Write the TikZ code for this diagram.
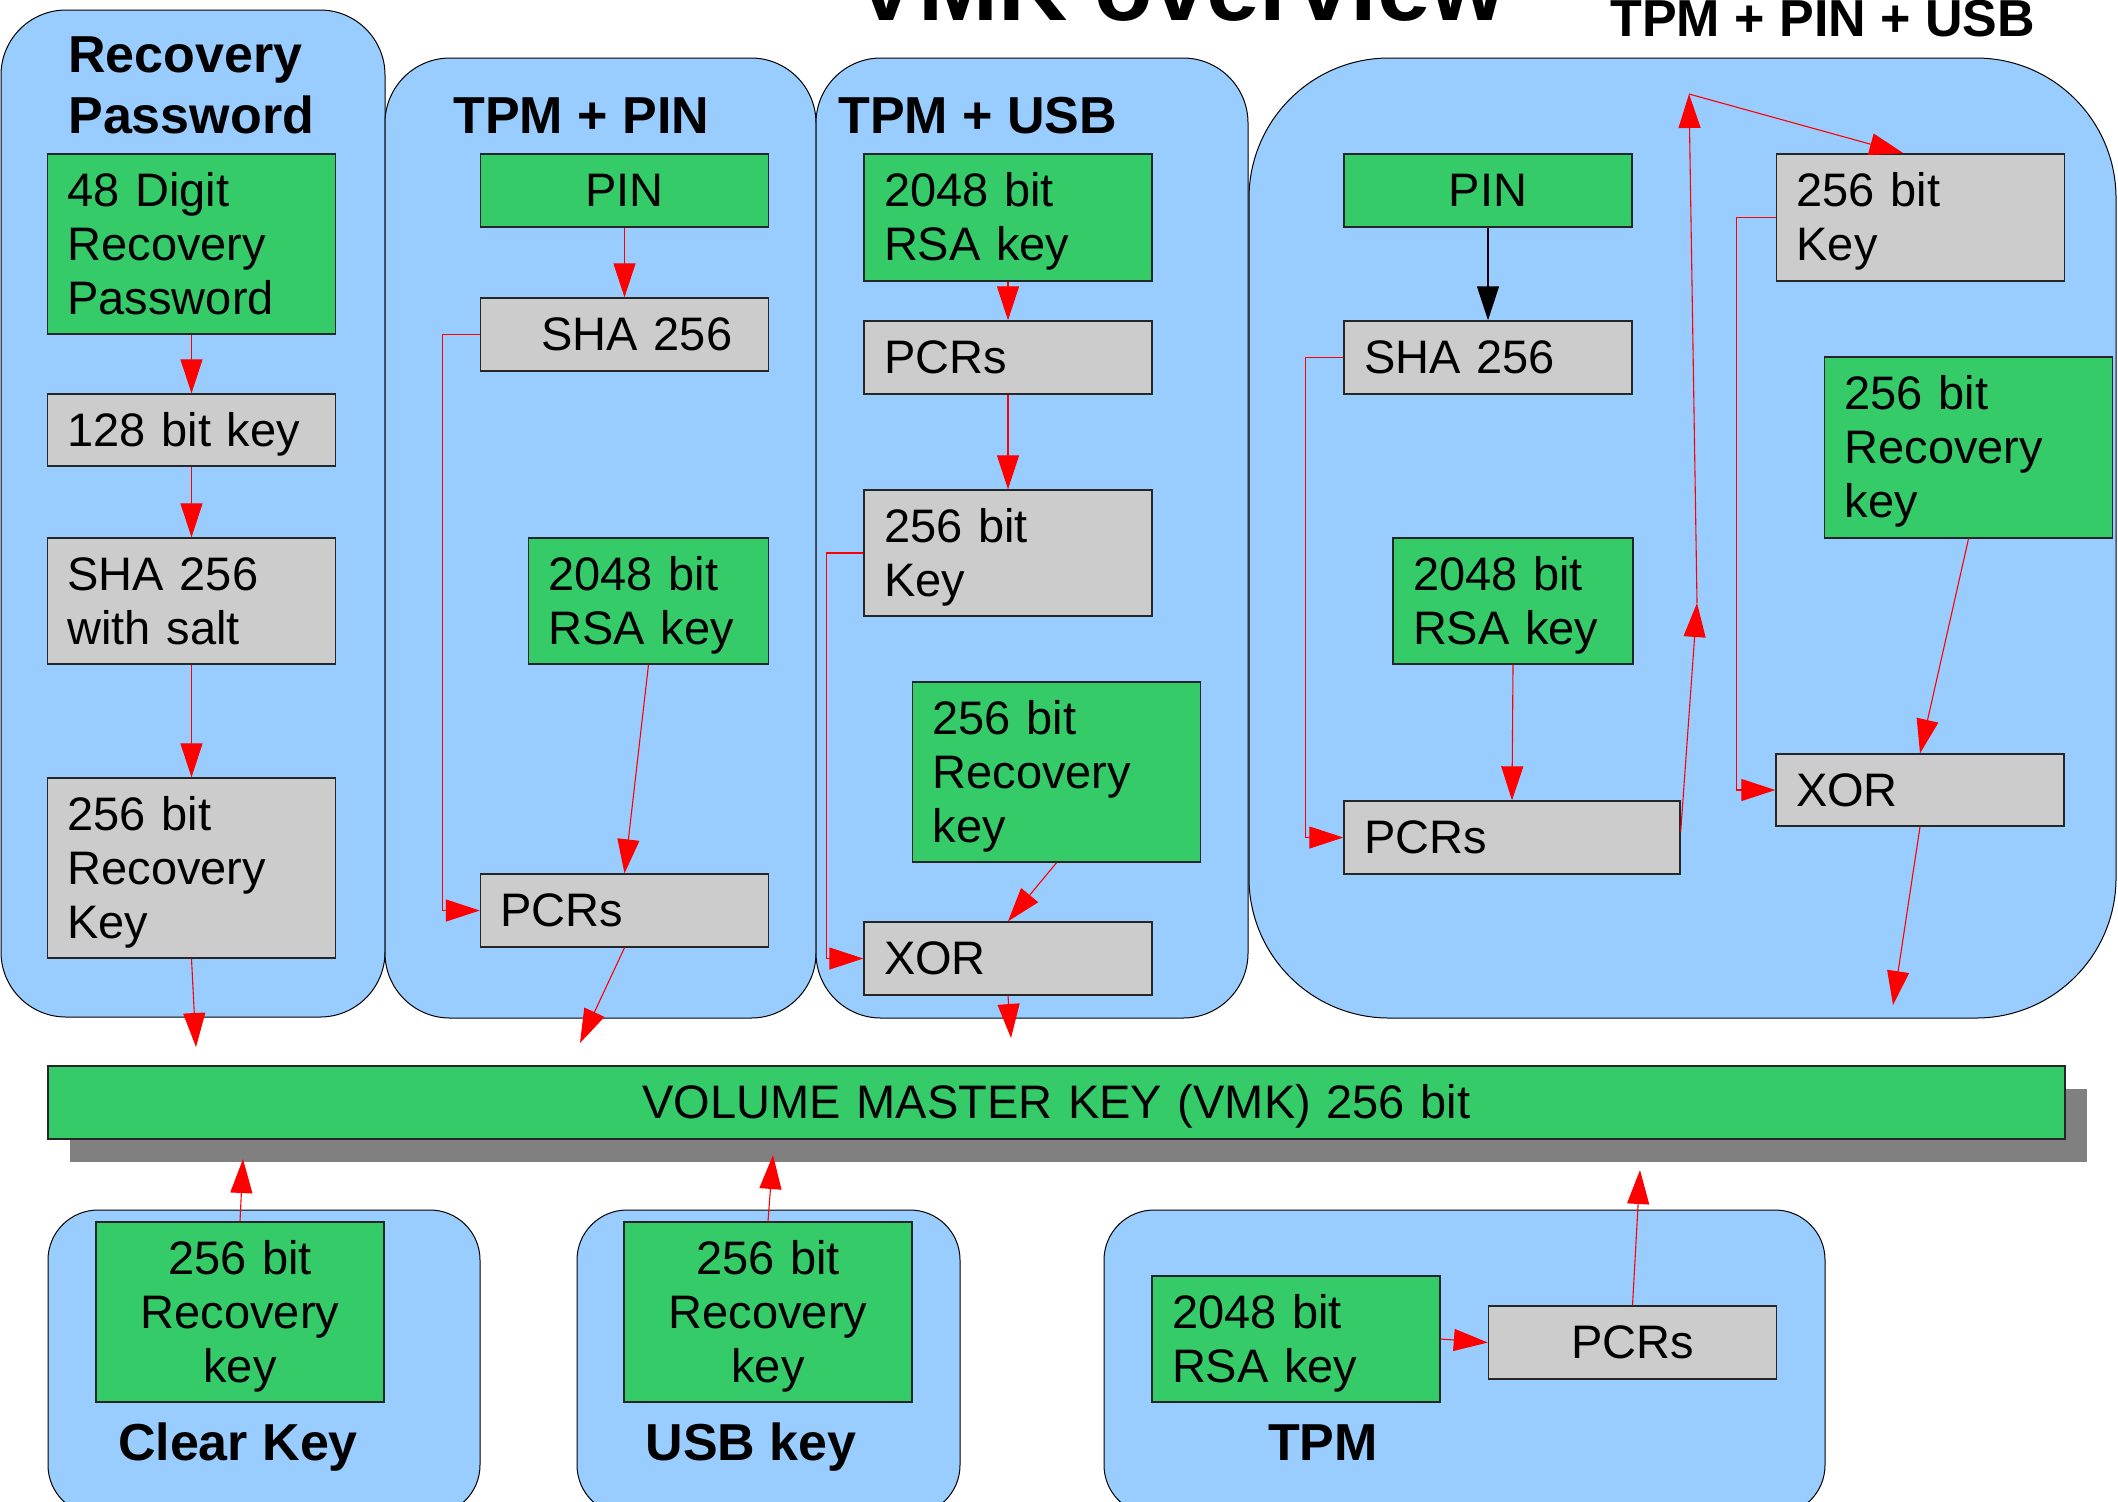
\documentclass[tikz,border=0pt]{standalone}
\usepackage{fontspec}
\setmainfont{Liberation Sans}
\usetikzlibrary{arrows.meta,calc}
\definecolor{cblue}{RGB}{153,204,255}
\definecolor{kgreen}{RGB}{53,203,104}
\definecolor{kgray}{RGB}{204,204,204}
\definecolor{shadowgray}{RGB}{128,128,128}
\newcommand\bxstrut{\rule[-5.4pt]{0pt}{27pt}}
\begin{document}
\begin{tikzpicture}[x=0.5pt,y=-0.5pt,
  container/.style={fill=cblue, draw=black, line width=0.5pt},
  boxbase/.style={draw=black!85, line width=0.7pt, inner sep=0pt,
    font=\fontsize{23.5}{27}\selectfont,
    execute at begin node=\bxstrut, execute at end node=\bxstrut},
  gbox/.style={boxbase, fill=kgreen},
  ybox/.style={boxbase, fill=kgray},
  w288/.style={minimum width=144pt, text width=124pt},
  w240/.style={minimum width=120pt, text width=100pt},
  h73/.style={minimum height=36.5pt},
  h126/.style={minimum height=63pt},
  h180/.style={minimum height=90pt},
  lft/.style={align=left},
  ctr/.style={align=center},
  ttl/.style={font=\bfseries\fontsize{26}{30.5}\selectfont, inner sep=0pt},
  rarr/.style={draw=red, line width=0.55pt, -{Triangle[length=17pt,width=11pt]}},
  karr/.style={rarr, draw=black},
]
\useasboundingbox (0,0) rectangle (2118,1501);
\clip (0,0) rectangle (2118,1501);

% containers
\path[container, rounded corners=32.5pt] (1,10) rectangle (385,1017);
\path[container, rounded corners=32.5pt] (385,58) rectangle (816,1018);
\path[container, rounded corners=32.5pt] (816,58) rectangle (1248,1018);
\path[container, rounded corners=70pt] (1249,58) rectangle (2116,1018);
\path[container, rounded corners=25pt] (48,1210) rectangle (480,1515);
\path[container, rounded corners=25pt] (577,1210) rectangle (960,1515);
\path[container, rounded corners=25pt] (1104,1210) rectangle (1825,1515);

% titles
\node[anchor=base, inner sep=0pt, font=\bfseries\fontsize{48}{56}\selectfont] (title) at (1180,20) {VMK overview};
\node[ttl, anchor=base west] (tpinusb) at (1610,36) {TPM + PIN + USB};
\node[ttl, anchor=base west, text width=160pt, align=left] (trec) at (68,72) {Recovery\\Password};
\node[ttl, anchor=base west] (tpin) at (453,133) {TPM + PIN};
\node[ttl, anchor=base west] (tusb) at (838,133) {TPM + USB};
\node[ttl, anchor=base] (tclear) at (238,1460) {Clear Key};
\node[ttl, anchor=base] (tusbkey) at (751,1460) {USB key};
\node[ttl, anchor=base] (ttpm) at (1323,1460) {TPM};

% Recovery password column
\node[gbox, w288, h180, lft] (R1) at (191.5,244) {48 Digit\\Recovery\\Password};
\node[ybox, w288, minimum height=36pt, lft] (R2) at (191.5,430) {128 bit key};
\node[ybox, w288, h126, lft] (R3) at (191.5,601) {SHA 256\\with salt};
\node[ybox, w288, h180, lft] (R4) at (191.5,868) {256 bit\\Recovery\\Key};

% TPM + PIN column
\node[gbox, w288, h73, ctr] (P1) at (624.5,190.5) {PIN};
\node[ybox, w288, h73, lft] (P2) at (624.5,334.5) {\hspace*{20.5pt}SHA 256};
\node[gbox, w240, h126, lft] (P3) at (648.5,601) {2048 bit\\RSA key};
\node[ybox, w288, h73, lft] (P4) at (624.5,910.5) {PCRs};

% TPM + USB column
\node[gbox, w288, minimum height=63.5pt, lft] (U1) at (1008,217.5) {2048 bit\\RSA key};
\node[ybox, w288, h73, lft] (U2) at (1008,357.5) {PCRs};
\node[ybox, w288, h126, lft] (U3) at (1008,553) {256 bit\\Key};
\node[gbox, w288, h180, lft] (U4) at (1056.5,772) {256 bit\\Recovery\\key};
\node[ybox, w288, h73, lft] (U5) at (1008,958.5) {XOR};

% TPM + PIN + USB
\node[gbox, w288, h73, ctr] (B1) at (1488,190.5) {PIN};
\node[ybox, w288, h73, lft] (B2) at (1488,357.5) {SHA 256};
\node[ybox, w288, minimum height=63.5pt, lft] (B3) at (1920.5,217.5) {256 bit\\Key};
\node[gbox, w288, minimum height=90.5pt, lft] (B4) at (1968.5,447.5) {256 bit\\Recovery\\key};
\node[gbox, w240, h126, lft] (B5) at (1513,601) {2048 bit\\RSA key};
\node[ybox, minimum width=168pt, text width=148pt, h73, lft] (B6) at (1512,837.5) {PCRs};
\node[ybox, w288, minimum height=36pt, lft] (B7) at (1920,790) {XOR};

% VMK
\fill[shadowgray] (70,1089) rectangle (2087,1162);
\node[gbox, minimum width=1008.5pt, text width=980pt, h73, ctr] (VMK) at (1056.5,1102.5) {VOLUME MASTER KEY (VMK) 256 bit};

% bottom
\node[gbox, w288, h180, ctr] (C1) at (240,1312) {256 bit\\Recovery\\key};
\node[gbox, w288, h180, ctr] (K1) at (768,1312) {256 bit\\Recovery\\key};
\node[gbox, w288, h126, lft] (T1) at (1296,1339) {2048 bit\\RSA key};
\node[ybox, w288, h73, ctr] (T2) at (1632.5,1342.5) {PCRs};

% connectors: recovery
\draw[rarr] (R1.south) -- (R2.north);
\draw[rarr] (R2.south) -- (R3.north);
\draw[rarr] (R3.south) -- (R4.north);
\coordinate (rv) at (196,1047);
\draw[rarr] (R4.south) -- (rv);

% TPM + PIN
\draw[rarr] (P1.south) -- (P2.north);
\draw[rarr] (P2.west) -- ++(-37,0) |- (P4.west);
\draw[rarr] (P3.south) -- (P4.north);
\coordinate (pv) at (580,1043);
\draw[rarr] (P4.south) -- (pv);

% TPM + USB
\draw[rarr] (U1.south) -- (U2.north);
\draw[rarr] (U2.south) -- (U3.north);
\draw[rarr] (U3.west) -- ++(-37,0) |- (U5.west);
\draw[rarr] (U4.south) -- (U5.north);
\coordinate (uv) at (1011,1038);
\draw[rarr] (U5.south) -- (uv);

% TPM + PIN + USB
\draw[karr] (B1.south) -- (B2.north);
\draw[rarr] (B2.west) -- ++(-38,0) |- (B6.west);
\draw[rarr] (B5.south) -- (B6.north);
\draw[rarr] (B3.west) -- ++(-39,0) |- (B7.west);
\draw[rarr] (B4.south) -- (B7.north);
\coordinate (bv) at (1893,1005);
\draw[rarr] (B7.south) -- (bv);
\coordinate (j1) at (1697,603);
\coordinate (j2) at (1689,94);
\draw[rarr] ([yshift=3pt]B6.east) -- (j1);
\draw[rarr] (j1) -- (j2);
\draw[rarr] (j2) -- ([xshift=-8.5pt]B3.north);

% bottom connectors
\coordinate (cv) at (243,1159);
\draw[rarr] (C1.north) -- (cv);
\coordinate (kv) at (773,1155);
\draw[rarr] (K1.north) -- (kv);
\draw[rarr] (T1.east) -- (T2.west);
\coordinate (tv) at (1640,1170);
\draw[rarr] (T2.north) -- (tv);
\end{tikzpicture}
\end{document}
